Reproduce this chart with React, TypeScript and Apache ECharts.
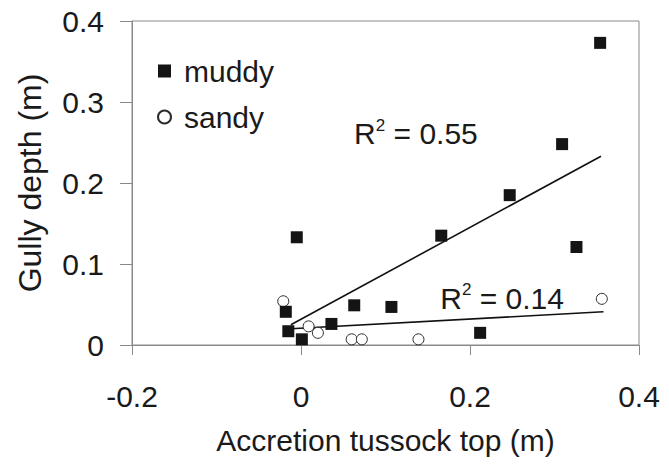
import React, { useEffect, useRef } from "react";
import * as echarts from "echarts";

// Accretion of the tussock top (m) against gully depth (m)
const muddyX = [-0.018, -0.015, 0.001, -0.005, 0.036, 0.063, 0.107, 0.166, 0.212, 0.247, 0.309, 0.326, 0.354];
const muddyY = [0.041, 0.017, 0.007, 0.133, 0.026, 0.049, 0.047, 0.135, 0.015, 0.185, 0.248, 0.121, 0.373];

const sandyX = [-0.021, 0.009, 0.02, 0.06, 0.072, 0.139, 0.356];
const sandyY = [0.054, 0.023, 0.015, 0.007, 0.007, 0.007, 0.057];

// Fitted trend lines (end points) and their R² values
const muddyTrendX = [-0.012, 0.355];
const muddyTrendY = [0.025, 0.233];
const sandyTrendX = [-0.012, 0.358];
const sandyTrendY = [0.02, 0.041];
const r2Values = [0.55, 0.14];
const r2LabelX = [0.136, 0.238];
const r2LabelY = [0.261, 0.058];

const xTicks = [-0.2, 0, 0.2, 0.4];
const yTicks = [0, 0.1, 0.2, 0.3, 0.4];

const pairs = (xs: number[], ys: number[]) => xs.map((x, i) => [x, ys[i]]);

const FONT = "'Liberation Sans', Arial, Helvetica, sans-serif";
const TEXT = "#1a1a1a";
const AXIS = "#8a8a8a";

const r2Label = (i: number) => ({
  coord: [r2LabelX[i], r2LabelY[i]],
  symbol: "circle",
  symbolSize: 0,
  label: {
    show: true,
    position: "inside",
    formatter: `{m|R}{s|2}{m| = ${r2Values[i].toFixed(2)}}`,
    rich: {
      m: { fontSize: 30, fontFamily: FONT, color: TEXT, lineHeight: 34 },
      s: { fontSize: 17, fontFamily: FONT, color: TEXT, verticalAlign: "top", lineHeight: 34 },
    },
  },
});

export default function App() {
  const ref = useRef<HTMLDivElement>(null);

  useEffect(() => {
    if (!ref.current) return;
    const chart = echarts.init(ref.current, null, { renderer: "svg" });
    chart.setOption({
      animation: false,
      backgroundColor: "#ffffff",
      textStyle: { fontFamily: FONT, color: TEXT },
      grid: {
        left: 132,
        right: 30,
        top: 21,
        bottom: 119,
        show: true,
        borderColor: AXIS,
        borderWidth: 1,
      },
      legend: {
        orient: "vertical",
        left: 157,
        top: 56,
        padding: 0,
        itemGap: 16,
        itemWidth: 13,
        itemHeight: 13,
        data: [
          { name: "muddy", icon: "rect" },
          { name: "sandy", icon: "circle" },
        ],
        textStyle: { fontSize: 30, fontFamily: FONT, color: TEXT, padding: [0, 0, 0, 8] },
      },
      xAxis: {
        type: "value",
        min: xTicks[0],
        max: xTicks[xTicks.length - 1],
        interval: 0.2,
        name: "Accretion tussock top (m)",
        nameLocation: "middle",
        nameGap: 80,
        nameTextStyle: { fontSize: 30, fontFamily: FONT, color: TEXT },
        axisLine: { show: true, onZero: false, lineStyle: { color: AXIS, width: 1 } },
        axisTick: { show: true, inside: false, length: 10, lineStyle: { color: AXIS } },
        splitLine: { show: false },
        axisLabel: {
          fontSize: 30,
          fontFamily: FONT,
          color: TEXT,
          margin: 36,
          formatter: (v: number) => String(Math.round(v * 10) / 10),
        },
      },
      yAxis: {
        type: "value",
        min: yTicks[0],
        max: yTicks[yTicks.length - 1],
        interval: 0.1,
        name: "Gully depth (m)",
        nameLocation: "middle",
        nameGap: 86,
        nameTextStyle: { fontSize: 32, fontFamily: FONT, color: TEXT },
        axisLine: { show: true, onZero: false, lineStyle: { color: AXIS, width: 1 } },
        axisTick: { show: true, inside: false, length: 12, lineStyle: { color: AXIS } },
        splitLine: { show: false },
        axisLabel: {
          fontSize: 30,
          fontFamily: FONT,
          color: TEXT,
          margin: 28,
          formatter: (v: number) => String(Math.round(v * 10) / 10),
        },
      },
      series: [
        {
          name: "muddy trend",
          type: "line",
          data: pairs(muddyTrendX, muddyTrendY),
          showSymbol: false,
          symbol: "none",
          lineStyle: { color: "#111", width: 1.6 },
          z: 1,
          markPoint: { data: [r2Label(0)], silent: true },
        },
        {
          name: "sandy trend",
          type: "line",
          data: pairs(sandyTrendX, sandyTrendY),
          showSymbol: false,
          symbol: "none",
          lineStyle: { color: "#111", width: 1.6 },
          z: 1,
          markPoint: { data: [r2Label(1)], silent: true },
        },
        {
          name: "sandy",
          type: "scatter",
          data: pairs(sandyX, sandyY),
          symbol: "circle",
          symbolSize: 11,
          itemStyle: { color: "#ffffff", borderColor: "#2a2a2a", borderWidth: 1, opacity: 1 },
          z: 2,
        },
        {
          name: "muddy",
          type: "scatter",
          data: pairs(muddyX, muddyY),
          symbol: "rect",
          symbolSize: 12,
          itemStyle: { color: "#141414", opacity: 1 },
          z: 3,
        },
      ],
    });
    return () => chart.dispose();
  }, []);

  return (
    <div
      ref={ref}
      style={{ position: "fixed", left: 0, top: 0, width: 669, height: 464, background: "#fff" }}
    />
  );
}
